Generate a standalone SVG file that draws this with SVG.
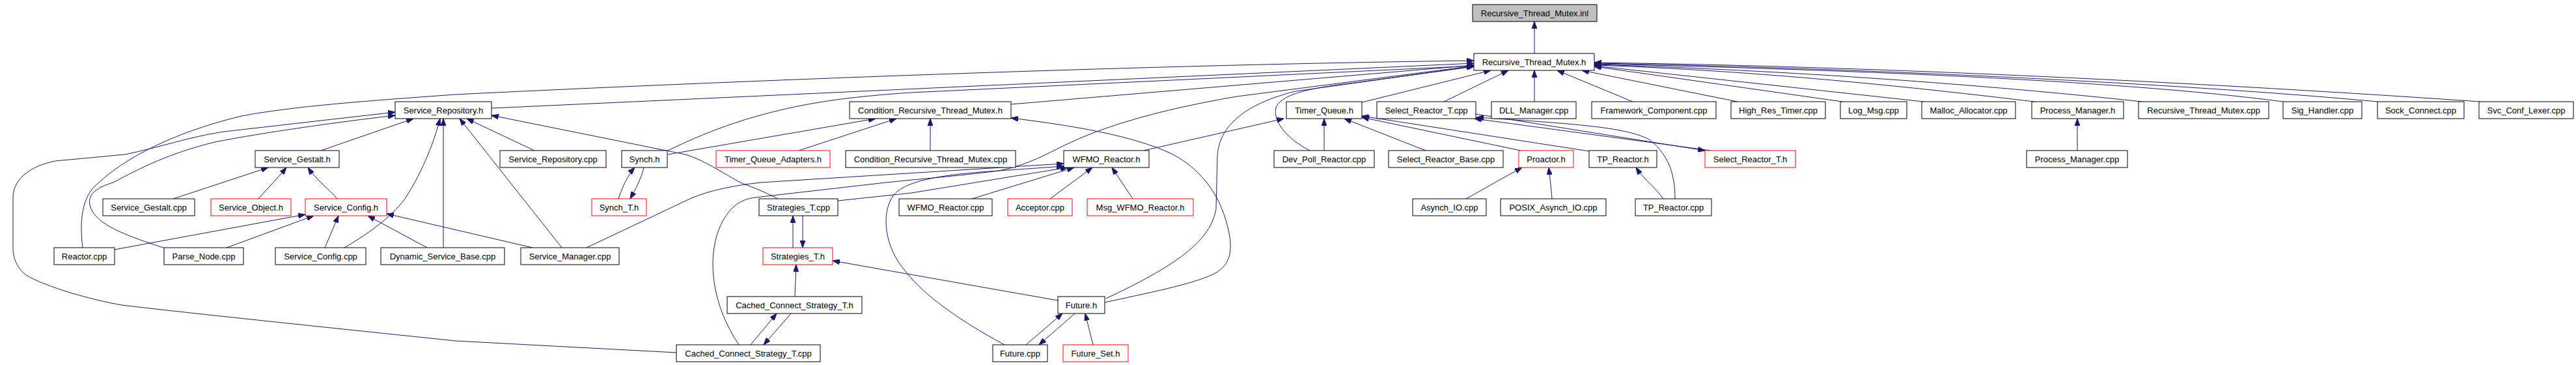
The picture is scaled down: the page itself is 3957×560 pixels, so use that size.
<svg xmlns="http://www.w3.org/2000/svg" width="3957" height="560" viewBox="0 0 3957 560">
<style>
.node rect{fill:#ffffff;stroke:#000000;stroke-width:1}
.node.red rect{stroke:#ff0000}
.node.root rect{fill:#bfbfbf}
.node text{font-family:"Liberation Sans",Arial,sans-serif;font-size:13px;text-anchor:middle;fill:#000000}
#edges path{fill:none;stroke:#191970;stroke-width:1;marker-end:url(#ah)}
</style>
<defs>
<marker id="ah" markerWidth="11" markerHeight="8" refX="11" refY="4" orient="auto" markerUnits="userSpaceOnUse"><path d="M0,0 L11,4 L0,8 z" fill="#191970" stroke="#191970" stroke-width="1"/></marker>
</defs>
<rect x="0" y="0" width="3957" height="560" fill="#ffffff"/>
<g id="edges">
<path d="M2357,82 L2357,33"/>
<path d="M755,166 L2264,97"/>
<path d="M1553,160 L2264,100"/>
<path d="M2092,157 L2290,108"/>
<path d="M2218,156 L2317,108"/>
<path d="M2357,156 L2357,108"/>
<path d="M2508,156 L2392,108"/>
<path d="M2669,156 L2430,108"/>
<path d="M2830,156 L2449,102"/>
<path d="M2955,156 L2449,101"/>
<path d="M3125,156 C2950,135 2700,108 2449,100"/>
<path d="M3290,156 C3050,130 2750,108 2449,99"/>
<path d="M3507,156 C3250,122 2800,106 2449,98"/>
<path d="M3652,156 C3350,128 2850,104 2449,97"/>
<path d="M3810,156 C3400,128 2900,102 2449,96"/>
<path d="M1026,231 C1080,205 1160,170 1285,153 C1330,147 1370,144 1400,142 L2264,101"/>
<path d="M127,380 C122,340 125,300 152,280 C190,245 260,205 371,178 C450,163 560,155 700,145 C1000,130 1700,100 2264,93"/>
<path d="M1699,458 C1790,415 1860,375 1868,320 L1870,240 C1872,195 1910,160 1990,140 L2264,102"/>
<path d="M2012,231 C1975,212 1955,185 1960,165 C1968,145 2010,135 2080,127 L2264,102"/>
<path d="M1135,529 C1095,470 1085,400 1105,350 C1118,320 1135,306 1160,303 L1361,280 C1420,274 1490,268 1534,262 C1570,255 1595,243 1625,228 C1680,200 1760,172 1900,148 L2264,101"/>
<path d="M901,380 L1062,304 C1090,292 1130,284 1169,280 L1634,251"/>
<path d="M1543,529 C1480,495 1420,455 1390,415 C1360,380 1352,330 1372,300 C1390,278 1440,268 1534,262 L1634,255"/>
<path d="M1287,308 L1400,296 L1640,257"/>
<path d="M1493,305 L1650,257"/>
<path d="M1613,305 L1678,257"/>
<path d="M1740,305 L1708,257"/>
<path d="M1757,231 L1972,182"/>
<path d="M1697,464 C1760,450 1830,437 1865,420 C1895,405 1893,375 1885,345 C1875,305 1850,262 1800,236 C1740,208 1650,193 1553,181"/>
<path d="M1625,461 L1279,400"/>
<path d="M1576,529 L1632,481"/>
<path d="M1651,481 L1596,529"/>
<path d="M1679,529 L1667,481"/>
<path d="M1195,305 C1170,292 1150,285 1137,280 C1110,265 1080,245 1053,237 L755,177"/>
<path d="M1218,380 L1218,331"/>
<path d="M1233,331 L1233,380"/>
<path d="M1221,455 L1223,406"/>
<path d="M1153,529 L1193,481"/>
<path d="M1215,481 L1173,529"/>
<path d="M1039,541 L700,523 C450,497 260,477 187,468 C140,460 70,440 40,422 C25,410 20,395 20,380 L20,300 C22,275 45,255 85,247 L192,237 C250,225 290,210 344,202 L607,172"/>
<path d="M254,381 C195,362 148,345 139,318 C132,298 150,287 174,280 C215,258 260,235 330,218 C380,208 480,192 607,177"/>
<path d="M176,383 L469,329"/>
<path d="M348,380 L482,331"/>
<path d="M499,380 L520,331"/>
<path d="M656,380 L565,331"/>
<path d="M818,380 L594,328"/>
<path d="M529,380 C560,362 600,335 622,305 C645,270 665,225 676,182"/>
<path d="M681,380 L681,182"/>
<path d="M863,380 L706,182"/>
<path d="M493,231 L635,182"/>
<path d="M821,231 L717,182"/>
<path d="M266,305 L412,257"/>
<path d="M397,305 C410,290 425,275 440,257"/>
<path d="M518,305 C505,290 485,275 473,257"/>
<path d="M1026,237 L1345,182"/>
<path d="M1227,231 L1377,182"/>
<path d="M1429,231 L1429,182"/>
<path d="M950,305 C955,290 963,270 975,257"/>
<path d="M989,257 C985,275 975,292 968,305"/>
<path d="M2034,231 L2034,182"/>
<path d="M2190,231 L2065,182"/>
<path d="M2336,231 L2092,180"/>
<path d="M2441,232 L2092,178"/>
<path d="M2267,175 L2619,231"/>
<path d="M2628,231 L2265,182"/>
<path d="M2573,305 C2573,270 2565,240 2535,215 C2500,195 2420,190 2268,180"/>
<path d="M2555,305 C2545,290 2525,275 2513,257"/>
<path d="M2252,305 C2270,295 2300,278 2338,257"/>
<path d="M2384,305 C2383,290 2381,275 2379,257"/>
<path d="M3191,231 L3191,182"/>
</g>
<g id="n_inl" class="node root"><rect x="2262" y="7" width="191" height="26"/><text x="2357.5" y="25">Recursive_Thread_Mutex.inl</text></g>
<g id="n_rtm_h" class="node"><rect x="2264" y="82" width="185" height="26"/><text x="2356.5" y="100">Recursive_Thread_Mutex.h</text></g>
<g id="n_sr_h" class="node"><rect x="607" y="156" width="148" height="26"/><text x="681" y="174">Service_Repository.h</text></g>
<g id="n_crtm_h" class="node"><rect x="1305" y="156" width="248" height="26"/><text x="1429" y="174">Condition_Recursive_Thread_Mutex.h</text></g>
<g id="n_tq_h" class="node"><rect x="1976" y="156" width="116" height="26"/><text x="2034" y="174">Timer_Queue.h</text></g>
<g id="n_srt_cpp" class="node"><rect x="2115" y="156" width="152" height="26"/><text x="2191" y="174">Select_Reactor_T.cpp</text></g>
<g id="n_dll" class="node"><rect x="2291" y="156" width="130" height="26"/><text x="2356" y="174">DLL_Manager.cpp</text></g>
<g id="n_fc" class="node"><rect x="2445" y="156" width="191" height="26"/><text x="2540.5" y="174">Framework_Component.cpp</text></g>
<g id="n_hrt" class="node"><rect x="2659" y="156" width="145" height="26"/><text x="2731.5" y="174">High_Res_Timer.cpp</text></g>
<g id="n_log" class="node"><rect x="2827" y="156" width="102" height="26"/><text x="2878" y="174">Log_Msg.cpp</text></g>
<g id="n_malloc" class="node"><rect x="2952" y="156" width="144" height="26"/><text x="3024" y="174">Malloc_Allocator.cpp</text></g>
<g id="n_pm_h" class="node"><rect x="3121" y="156" width="141" height="26"/><text x="3191.5" y="174">Process_Manager.h</text></g>
<g id="n_rtm_cpp" class="node"><rect x="3285" y="156" width="200" height="26"/><text x="3385" y="174">Recursive_Thread_Mutex.cpp</text></g>
<g id="n_sig" class="node"><rect x="3507" y="156" width="121" height="26"/><text x="3567.5" y="174">Sig_Handler.cpp</text></g>
<g id="n_sock" class="node"><rect x="3652" y="156" width="133" height="26"/><text x="3718.5" y="174">Sock_Connect.cpp</text></g>
<g id="n_svc" class="node"><rect x="3808" y="156" width="145" height="26"/><text x="3880.5" y="174">Svc_Conf_Lexer.cpp</text></g>
<g id="n_sg_h" class="node"><rect x="392" y="231" width="129" height="26"/><text x="456.5" y="249">Service_Gestalt.h</text></g>
<g id="n_sr_cpp" class="node"><rect x="768" y="231" width="163" height="26"/><text x="849.5" y="249">Service_Repository.cpp</text></g>
<g id="n_synch_h" class="node"><rect x="955" y="231" width="70" height="26"/><text x="990" y="249">Synch.h</text></g>
<g id="n_tqa_h" class="node red"><rect x="1100" y="231" width="175" height="26"/><text x="1187.5" y="249">Timer_Queue_Adapters.h</text></g>
<g id="n_crtm_cpp" class="node"><rect x="1299" y="231" width="261" height="26"/><text x="1429.5" y="249">Condition_Recursive_Thread_Mutex.cpp</text></g>
<g id="n_wr_h" class="node"><rect x="1634" y="231" width="131" height="26"/><text x="1699.5" y="249">WFMO_Reactor.h</text></g>
<g id="n_dpr" class="node"><rect x="1957" y="231" width="154" height="26"/><text x="2034" y="249">Dev_Poll_Reactor.cpp</text></g>
<g id="n_srb" class="node"><rect x="2133" y="231" width="176" height="26"/><text x="2221" y="249">Select_Reactor_Base.cpp</text></g>
<g id="n_pro_h" class="node red"><rect x="2333" y="231" width="84" height="26"/><text x="2375" y="249">Proactor.h</text></g>
<g id="n_tpr_h" class="node"><rect x="2441" y="231" width="104" height="26"/><text x="2493" y="249">TP_Reactor.h</text></g>
<g id="n_srt_h" class="node red"><rect x="2619" y="231" width="139" height="26"/><text x="2688.5" y="249">Select_Reactor_T.h</text></g>
<g id="n_pm_cpp" class="node"><rect x="3113" y="231" width="155" height="26"/><text x="3190.5" y="249">Process_Manager.cpp</text></g>
<g id="n_sg_cpp" class="node"><rect x="158" y="305" width="141" height="26"/><text x="228.5" y="323">Service_Gestalt.cpp</text></g>
<g id="n_so_h" class="node red"><rect x="324" y="305" width="123" height="26"/><text x="385.5" y="323">Service_Object.h</text></g>
<g id="n_sc_h" class="node red"><rect x="469" y="305" width="125" height="26"/><text x="531.5" y="323">Service_Config.h</text></g>
<g id="n_synch_t" class="node red"><rect x="909" y="305" width="84" height="26"/><text x="951" y="323">Synch_T.h</text></g>
<g id="n_st_cpp" class="node"><rect x="1166" y="305" width="121" height="26"/><text x="1226.5" y="323">Strategies_T.cpp</text></g>
<g id="n_wr_cpp" class="node"><rect x="1381" y="305" width="143" height="26"/><text x="1452.5" y="323">WFMO_Reactor.cpp</text></g>
<g id="n_acc" class="node red"><rect x="1548" y="305" width="99" height="26"/><text x="1597.5" y="323">Acceptor.cpp</text></g>
<g id="n_msg" class="node red"><rect x="1670" y="305" width="163" height="26"/><text x="1751.5" y="323">Msg_WFMO_Reactor.h</text></g>
<g id="n_aio" class="node"><rect x="2170" y="305" width="113" height="26"/><text x="2226.5" y="323">Asynch_IO.cpp</text></g>
<g id="n_paio" class="node"><rect x="2305" y="305" width="162" height="26"/><text x="2386" y="323">POSIX_Asynch_IO.cpp</text></g>
<g id="n_tpr_cpp" class="node"><rect x="2512" y="305" width="117" height="26"/><text x="2570.5" y="323">TP_Reactor.cpp</text></g>
<g id="n_reactor" class="node"><rect x="83" y="380" width="93" height="26"/><text x="129.5" y="398">Reactor.cpp</text></g>
<g id="n_parse" class="node"><rect x="252" y="380" width="122" height="26"/><text x="313" y="398">Parse_Node.cpp</text></g>
<g id="n_sc_cpp" class="node"><rect x="423" y="380" width="139" height="26"/><text x="492.5" y="398">Service_Config.cpp</text></g>
<g id="n_dsb" class="node"><rect x="585" y="380" width="190" height="26"/><text x="680" y="398">Dynamic_Service_Base.cpp</text></g>
<g id="n_sm" class="node"><rect x="800" y="380" width="151" height="26"/><text x="875.5" y="398">Service_Manager.cpp</text></g>
<g id="n_st_h" class="node red"><rect x="1172" y="380" width="107" height="26"/><text x="1225.5" y="398">Strategies_T.h</text></g>
<g id="n_ccs_h" class="node"><rect x="1117" y="455" width="207" height="26"/><text x="1220.5" y="473">Cached_Connect_Strategy_T.h</text></g>
<g id="n_fut_h" class="node"><rect x="1625" y="455" width="72" height="26"/><text x="1661" y="473">Future.h</text></g>
<g id="n_ccs_cpp" class="node"><rect x="1039" y="529" width="221" height="26"/><text x="1149.5" y="547">Cached_Connect_Strategy_T.cpp</text></g>
<g id="n_fut_cpp" class="node"><rect x="1525" y="529" width="84" height="26"/><text x="1567" y="547">Future.cpp</text></g>
<g id="n_fs_h" class="node red"><rect x="1633" y="529" width="100" height="26"/><text x="1683" y="547">Future_Set.h</text></g>
</svg>
